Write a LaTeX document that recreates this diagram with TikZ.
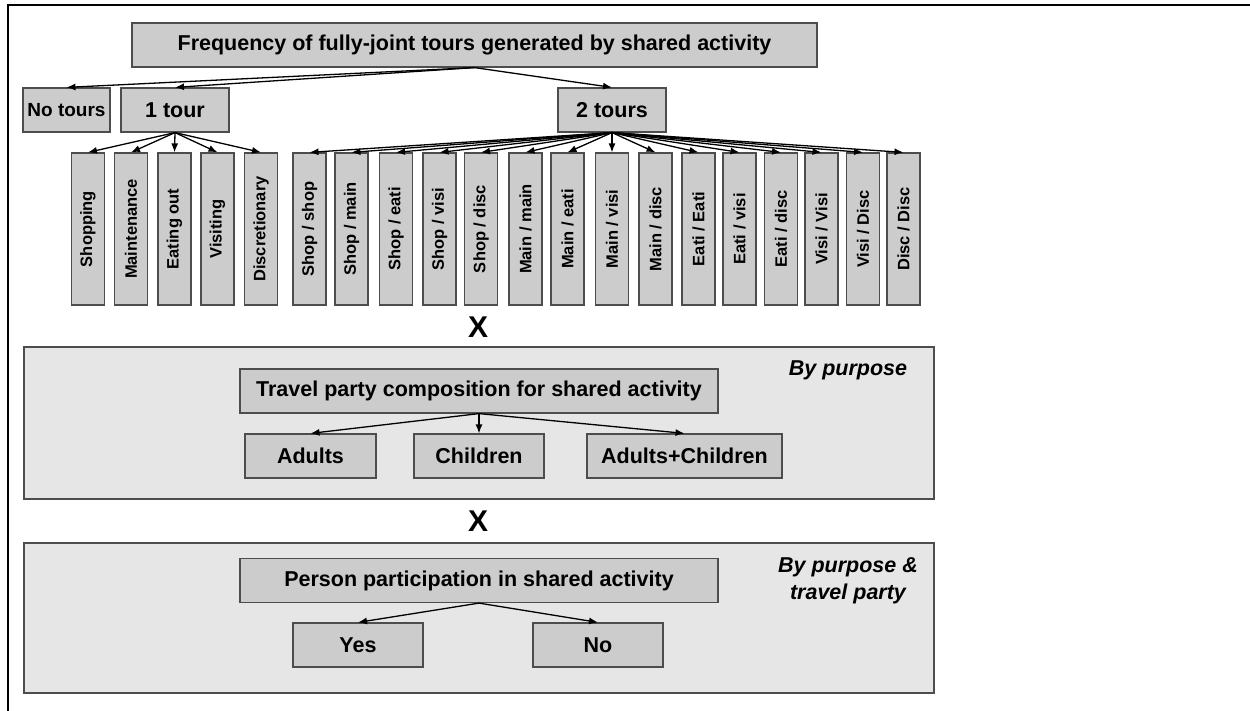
\documentclass[tikz,border=0pt]{standalone}
\usepackage{fontspec}
\setmainfont{Liberation Sans}
\usepackage{xcolor}
\usepackage{tikz}
\usetikzlibrary{arrows.meta,positioning}
\definecolor{boxgray}{HTML}{CCCCCC}
\definecolor{panelgray}{HTML}{E6E6E6}
\definecolor{edgegray}{HTML}{4D4D4D}

\begin{document}
\begin{tikzpicture}[x=1pt,y=-1pt,>={Latex[length=9pt,width=7pt]},
    box/.style={draw=edgegray,line width=1.2pt,fill=boxgray,inner sep=0pt,minimum height=44pt,font=\bfseries\fontsize{21.5}{24}\selectfont},
    vbox/.style={box,rotate=90,minimum width=152pt,minimum height=33pt,font=\bfseries\fontsize{16.5}{18}\selectfont},
    panel/.style={draw=edgegray,line width=1.2pt,fill=panelgray,inner sep=0pt},
    link/.style={->,line width=1.3pt}]
        \useasboundingbox (0,0) rectangle (1250,711);
        \draw[line width=2.5pt] (8,711) -- (8,5) -- (1250,5);
        % frequency tree
        \node[box,minimum width=685pt] (title) at (474.5,45) {Frequency of fully-joint tours generated by shared activity};
        \node[box,minimum width=87pt,font=\bfseries\fontsize{19}{22}\selectfont] (notours) at (66.5,110) {No tours};
        \node[box,minimum width=108pt] (onetour) at (175,110) {1 tour};
        \node[box,minimum width=108pt] (twotours) at (612,110) {2 tours};
        \draw[link] (title.south) -- (notours.north);
        \draw[link] (title.south) -- (onetour.north);
        \draw[link] (title.south) -- (twotours.north);
        % one tour purposes
        \node[vbox] (shop) at (88,229) {Shopping};
        \node[vbox] (main) at (131,229) {Maintenance};
        \node[vbox] (eati) at (174.5,229) {Eating out};
        \node[vbox] (visi) at (217.5,229) {Visiting};
        \node[vbox] (disc) at (261,229) {Discretionary};
        \draw[link] (onetour.south) -- (shop.east);
        \draw[link] (onetour.south) -- (main.east);
        \draw[link] (onetour.south) -- (eati.east);
        \draw[link] (onetour.south) -- (visi.east);
        \draw[link] (onetour.south) -- (disc.east);
        % two tour combinations
        \node[vbox] (ss) at (309.5,229) {Shop / shop};
        \node[vbox] (sm) at (351.5,229) {Shop / main};
        \node[vbox] (se) at (396,229) {Shop / eati};
        \node[vbox] (sv) at (439.5,229) {Shop / visi};
        \node[vbox] (sd) at (481,229) {Shop / disc};
        \node[vbox] (mm) at (525.5,229) {Main / main};
        \node[vbox] (me) at (567.5,229) {Main / eati};
        \node[vbox] (mv) at (612,229) {Main / visi};
        \node[vbox] (md) at (655.5,229) {Main / disc};
        \node[vbox] (ee) at (698.5,229) {Eati / Eati};
        \node[vbox] (ev) at (739.5,229) {Eati / visi};
        \node[vbox] (ed) at (781,229) {Eati / disc};
        \node[vbox] (vv) at (821.5,229) {Visi / Visi};
        \node[vbox] (vd) at (863,229) {Visi / Disc};
        \node[vbox] (dd) at (903.5,229) {Disc / Disc};
        \draw[link] (twotours.south) -- (ss.east);
        \draw[link] (twotours.south) -- (sm.east);
        \draw[link] (twotours.south) -- (se.east);
        \draw[link] (twotours.south) -- (sv.east);
        \draw[link] (twotours.south) -- (sd.east);
        \draw[link] (twotours.south) -- (mm.east);
        \draw[link] (twotours.south) -- (me.east);
        \draw[link] (twotours.south) -- (mv.east);
        \draw[link] (twotours.south) -- (md.east);
        \draw[link] (twotours.south) -- (ee.east);
        \draw[link] (twotours.south) -- (ev.east);
        \draw[link] (twotours.south) -- (ed.east);
        \draw[link] (twotours.south) -- (vv.east);
        \draw[link] (twotours.south) -- (vd.east);
        \draw[link] (twotours.south) -- (dd.east);
        \node[font=\bfseries\fontsize{30}{30}\selectfont] (cross1) at (478,327) {X};
        % travel party panel
        \node[panel,minimum width=910pt,minimum height=152pt] (party) at (479,423) {};
        \node[font=\bfseries\itshape\fontsize{21.5}{24}\selectfont] (bypurp) at (848,370) {By purpose};
        \node[box,minimum width=478pt] (comp) at (479,391) {Travel party composition for shared activity};
        \node[box,minimum width=131pt] (adults) at (310.5,456) {Adults};
        \node[box,minimum width=130pt] (children) at (479,456) {Children};
        \node[box,minimum width=195pt] (both) at (684.5,456) {Adults+Children};
        \draw[link] (comp.south) -- (adults.north);
        \draw[link] (comp.south) -- (children.north);
        \draw[link] (comp.south) -- (both.north);
        \node[font=\bfseries\fontsize{30}{30}\selectfont] (cross2) at (478,521) {X};
        % participation panel
        \node[panel,minimum width=910pt,minimum height=150pt] (partic) at (479,618) {};
        \node[align=center,font=\bfseries\itshape\fontsize{21.5}{27}\selectfont] (bypurptp) at (848,581) {By purpose \&\\travel party};
        \node[box,minimum width=478pt] (person) at (479,580.5) {Person participation in shared activity};
        \node[box,minimum width=130pt] (yes) at (358,645) {Yes};
        \node[box,minimum width=130pt] (no) at (598,645) {No};
        \draw[link] (person.south) -- (yes.north);
        \draw[link] (person.south) -- (no.north);
      \end{tikzpicture}
\end{document}
